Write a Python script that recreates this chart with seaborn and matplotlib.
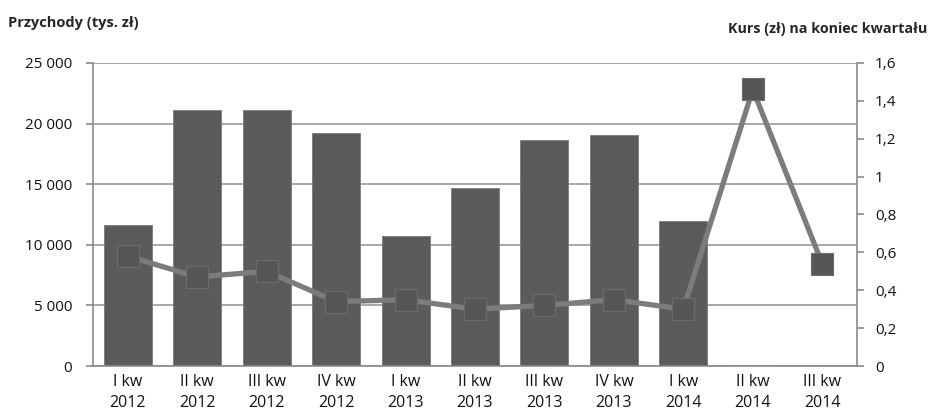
import numpy as np
import pandas as pd
import matplotlib
matplotlib.use("Agg")
import matplotlib.pyplot as plt
from matplotlib.ticker import FuncFormatter, FixedLocator
import seaborn as sns

# data
kwartaly = ["I kw\n2012", "II kw\n2012", "III kw\n2012", "IV kw\n2012",
            "I kw\n2013", "II kw\n2013", "III kw\n2013", "IV kw\n2013",
            "I kw\n2014", "II kw\n2014", "III kw\n2014"]
przychody = [11600, 21100, 21100, 19200, 10700, 14650, 18650, 19050, 12000, 120, np.nan]
kurs = [0.58, 0.47, 0.50, 0.34, 0.35, 0.30, 0.32, 0.35, 0.30, 1.46, 0.54]

df = pd.DataFrame({"kwartal": kwartaly, "przychody": przychody, "kurs": kurs})

sns.set_style("white")
plt.rcParams['font.family'] = ['Open Sans', 'DejaVu Sans']

fig = plt.figure(figsize=(9.3, 4.17), dpi=100)
ax = fig.add_axes([0.1, 0.1223, 0.8215, 0.7267])

sns.barplot(data=df, x="kwartal", y="przychody", order=kwartaly, color="#5b5b5b",
            saturation=1, width=0.69, edgecolor="#7a7a7a", linewidth=0.6, ax=ax, zorder=2)
ax.set_ylim(0, 25000)
ax.set_xlim(-0.5, len(kwartaly) - 0.5)
ax.set_yticks(np.arange(0, 25001, 5000))
ax.yaxis.set_major_formatter(FuncFormatter(lambda v, p: f"{int(v):,}".replace(",", " ")))
ax.yaxis.grid(True, color="#9a9a9a", linewidth=1.2, zorder=0)
ax.set_axisbelow(True)
ax.set_xlabel("")
ax.set_ylabel("")

# ticks between categories like in a spreadsheet chart
ax.xaxis.set_minor_locator(FixedLocator(np.arange(-0.5, len(kwartaly), 1)))
ax.tick_params(axis="x", which="major", length=0, pad=6, labelsize=11.5, colors="#111111")
ax.tick_params(axis="x", which="minor", length=5, color="#8a8a8a", width=1.2)
ax.tick_params(axis="y", length=5, color="#8a8a8a", width=1.2, labelsize=11, colors="#111111", pad=10)
for lab in ax.get_xticklabels():
    lab.set_linespacing(1.35)

for side in ["left", "bottom"]:
    ax.spines[side].set_color("#8a8a8a")
    ax.spines[side].set_linewidth(1.2)
for side in ["top", "right"]:
    ax.spines[side].set_visible(False)

ax2 = ax.twinx()
sns.pointplot(data=df, x="kwartal", y="kurs", order=kwartaly, color="#7c7c7c",
              markers="", linewidth=3.8, ax=ax2)
sns.pointplot(data=df, x="kwartal", y="kurs", order=kwartaly, color="#565656",
              markers="s", linestyles="none", markersize=16,
              markeredgecolor="#6c6c6c", markeredgewidth=0.8, ax=ax2)
ax2.set_ylim(0, 1.6)
ax2.set_xlim(-0.5, len(kwartaly) - 0.5)
ax2.set_yticks(np.arange(0, 1.61, 0.2))
ax2.yaxis.set_major_formatter(FuncFormatter(lambda v, p: f"{v:.1f}".rstrip("0").rstrip(".").replace(".", ",")))
ax2.tick_params(axis="y", length=5, color="#8a8a8a", width=1.2, labelsize=11, colors="#111111", pad=8)
ax2.set_xlabel("")
ax2.set_ylabel("")
for side in ["left", "bottom", "top"]:
    ax2.spines[side].set_visible(False)
ax2.spines["right"].set_color("#8a8a8a")
ax2.spines["right"].set_linewidth(1.2)

fig.text(0.009, 0.945, "Przychody (tys. zł)", fontsize=10.5, fontweight="bold", ha="left", va="center")
fig.text(0.997, 0.93, "Kurs (zł) na koniec kwartału", fontsize=10.3, fontweight="bold", ha="right", va="center")

fig.savefig("out.png", dpi=100)
